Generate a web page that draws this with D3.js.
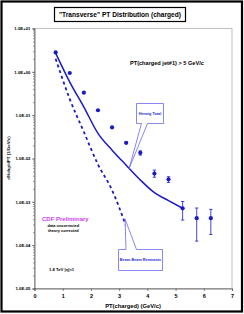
<!DOCTYPE html>
<html>
<head>
<meta charset="utf-8">
<script src="https://cdn.jsdelivr.net/npm/d3@7"></script>
<style>
  body { margin: 0; background: #fff; }
  svg { display: block; font-family: "Liberation Sans", Arial, sans-serif; }
</style>
</head>
<body>
<svg id="chart" width="244" height="314"></svg>
<script>
// data
const ptBins = [0.75, 1.25, 1.75, 2.25, 2.75, 3.25, 3.75, 4.25, 4.75, 5.25, 5.75, 6.25]
const dataVals = [2.8, 0.94, 0.33, 0.13, 0.052, 0.023, 0.0135, 0.0045, 0.0033, 0.00071, 0.00042, 0.00042]
const errHigh = [2.8, 0.94, 0.33, 0.13, 0.052, 0.024, 0.015, 0.0054, 0.0038, 0.00102, 0.00072, 0.00067]
const errLow = [2.8, 0.94, 0.33, 0.13, 0.052, 0.022, 0.012, 0.0037, 0.0028, 0.00038, 0.000124, 0.000177]

const herwigPt = [0.75, 1.25, 1.75, 2.25, 2.75, 3.25, 3.75, 4.25, 4.75, 5.25]
const herwigVals = [2.7, 0.58, 0.154, 0.038, 0.0156, 0.007, 0.0032, 0.00163, 0.00107, 0.00071]

const beamPt = [0.75, 1.25, 1.75, 2.25, 2.75, 3.25]
const beamVals = [2.0, 0.235, 0.041, 0.0073, 0.00186, 0.00027]

const xTicks = [0, 1, 2, 3, 4, 5, 6, 7]
const yDecades = [1e-5, 1e-4, 1e-3, 1e-2, 1e-1, 1, 10]

const blue = '#1a1ac8'
const calloutBlue = '#6a6af0'

const svg = d3.select('#chart')

// outer frame
svg.append('rect')
  .attr('x', 1.5).attr('y', 1.5)
  .attr('width', 240.5).attr('height', 310)
  .attr('fill', 'none')
  .attr('stroke', '#000')
  .attr('stroke-width', 2.2)

const x = d3.scaleLinear().domain([0, 7]).range([34.5, 232])
const y = d3.scaleLog().domain([1e-5, 10]).range([288.5, 28.5])

// plot area border (light grey top/right)
svg.append('rect')
  .attr('x', x(0)).attr('y', y(10))
  .attr('width', x(7) - x(0)).attr('height', y(1e-5) - y(10))
  .attr('fill', 'none')
  .attr('stroke', '#b0b0b0')
  .attr('stroke-width', 0.8)

// axes
function fmtExp(v) {
  const e = Math.round(Math.log10(v))
  return '1.0E' + (e < 0 ? '-' : '+') + String(Math.abs(e)).padStart(2, '0')
}

const minorTicks = []
yDecades.forEach(d => {
  for (let k = 1; k <= 9; k++) {
    if (d * k <= 10.0001) minorTicks.push(d * k)
  }
})

const yAxis = svg.append('g')
  .attr('transform', `translate(${x(0)},0)`)
  .call(d3.axisLeft(y).tickValues(minorTicks).tickSize(1.5).tickFormat(''))
yAxis.selectAll('path').attr('stroke', '#555').attr('stroke-width', 0.8)
yAxis.selectAll('line').attr('stroke', '#555').attr('stroke-width', 0.6)

const yMajor = svg.append('g')
  .attr('transform', `translate(${x(0)},0)`)
  .call(d3.axisLeft(y).tickValues(yDecades).tickSize(2.5).tickPadding(1.5).tickFormat(fmtExp))
yMajor.select('.domain').remove()
yMajor.selectAll('line').attr('stroke', '#555').attr('stroke-width', 0.7)
yMajor.selectAll('text')
  .attr('font-size', 4.3)
  .attr('font-weight', 'bold')
  .attr('font-family', '"Liberation Sans", Arial, sans-serif')
  .attr('fill', '#000')

const xAxis = svg.append('g')
  .attr('transform', `translate(0,${y(1e-5)})`)
  .call(d3.axisBottom(x).tickValues(xTicks).tickSize(2.5).tickPadding(3).tickFormat(d3.format('d')))
xAxis.selectAll('path').attr('stroke', '#555').attr('stroke-width', 0.8)
xAxis.selectAll('line').attr('stroke', '#555').attr('stroke-width', 0.7)
xAxis.selectAll('text')
  .attr('font-size', 5.5)
  .attr('font-weight', 'bold')
  .attr('font-family', '"Liberation Sans", Arial, sans-serif')
  .attr('fill', '#000')

// axis titles
svg.append('text')
  .attr('x', 133).attr('y', 308)
  .attr('text-anchor', 'middle')
  .attr('font-size', 5.8)
  .attr('font-weight', 'bold')
  .text('PT(charged)  (GeV/c)')

svg.append('text')
  .attr('transform', 'translate(9.8,158) rotate(-90)')
  .attr('text-anchor', 'middle')
  .attr('font-size', 4.4)
  .attr('font-weight', 'bold')
  .text('dNchg/dPT (1/GeV/c)')

// title box
svg.append('rect')
  .attr('x', 54.5).attr('y', 7.5)
  .attr('width', 131).attr('height', 14)
  .attr('fill', '#fff')
  .attr('stroke', '#000')
  .attr('stroke-width', 1.2)
svg.append('text')
  .attr('x', 120).attr('y', 17.3)
  .attr('text-anchor', 'middle')
  .attr('font-size', 6.6)
  .attr('font-weight', 'bold')
  .text('"Transverse" PT Distribution (charged)')

// annotations
svg.append('text')
  .attr('x', 130).attr('y', 65)
  .attr('font-size', 5.6)
  .attr('font-weight', 'bold')
  .text('PT(charged jet#1) > 5 GeV/c')

svg.append('text')
  .attr('x', 42).attr('y', 221)
  .attr('font-size', 6)
  .attr('font-weight', 'bold')
  .attr('fill', '#cc44ee')
  .text('CDF Preliminary')

svg.append('text')
  .attr('x', 47.5).attr('y', 227.3)
  .attr('font-size', 3.9)
  .attr('font-weight', 'bold')
  .text('data uncorrected')
svg.append('text')
  .attr('x', 48).attr('y', 232.3)
  .attr('font-size', 3.9)
  .attr('font-weight', 'bold')
  .text('theory corrected')

svg.append('text')
  .attr('x', 49).attr('y', 271)
  .attr('font-size', 4.2)
  .attr('font-weight', 'bold')
  .text('1.8 TeV |η|<1')

// curves
const line = d3.line()
  .x(d => x(d[0]))
  .y(d => y(d[1]))
  .curve(d3.curveMonotoneX)

svg.append('path')
  .datum(d3.zip(herwigPt, herwigVals))
  .attr('d', line)
  .attr('fill', 'none')
  .attr('stroke', blue)
  .attr('stroke-width', 1.5)

svg.append('path')
  .datum(d3.zip(beamPt, beamVals))
  .attr('d', line)
  .attr('fill', 'none')
  .attr('stroke', blue)
  .attr('stroke-width', 1.8)
  .attr('stroke-dasharray', '3,3')

// error bars
const eb = svg.append('g').attr('class', 'error-bars')
ptBins.forEach((p, i) => {
  if (y(errLow[i]) - y(errHigh[i]) < 1.5) return
  eb.append('line')
    .attr('x1', x(p)).attr('x2', x(p))
    .attr('y1', y(errHigh[i])).attr('y2', y(errLow[i]))
    .attr('stroke', blue).attr('stroke-width', 0.8)
  ;[errHigh[i], errLow[i]].forEach(v => {
    eb.append('line')
      .attr('x1', x(p) - 1.7).attr('x2', x(p) + 1.7)
      .attr('y1', y(v)).attr('y2', y(v))
      .attr('stroke', blue).attr('stroke-width', 0.8)
  })
})

// data points
svg.append('g')
  .selectAll('circle')
  .data(d3.zip(ptBins, dataVals))
  .join('circle')
  .attr('cx', d => x(d[0]))
  .attr('cy', d => y(d[1]))
  .attr('r', 2.1)
  .attr('fill', blue)

// callouts
function callout(bx, by, bw, bh, px1, px2, tipX, tipY, onTop, label) {
  const g = svg.append('g')
  const edge = onTop ? by : by + bh
  const pts = onTop
    ? [[bx, by], [px1, by], [tipX, tipY], [px2, by], [bx + bw, by], [bx + bw, by + bh], [bx, by + bh]]
    : [[bx, by], [bx + bw, by], [bx + bw, edge], [px2, edge], [tipX, tipY], [px1, edge], [bx, edge]]
  g.append('polygon')
    .attr('points', pts.map(p => p.join(',')).join(' '))
    .attr('fill', '#fff')
    .attr('stroke', calloutBlue)
    .attr('stroke-width', 0.8)
  g.append('text')
    .attr('x', bx + bw / 2).attr('y', by + bh / 2 + 1.3)
    .attr('text-anchor', 'middle')
    .attr('font-size', 3.8)
    .attr('font-weight', 'bold')
    .attr('fill', '#2a2ad0')
    .text(label)
}

callout(136.5, 103.5, 27, 20, 141.5, 147.5, x(3.35), y(0.0058), false, 'Herwig Total')
callout(118.5, 249.5, 44, 21, 126, 136.5, x(3.21), y(0.0004), true, 'Beam-Beam Remnants')
</script>
</body>
</html>
